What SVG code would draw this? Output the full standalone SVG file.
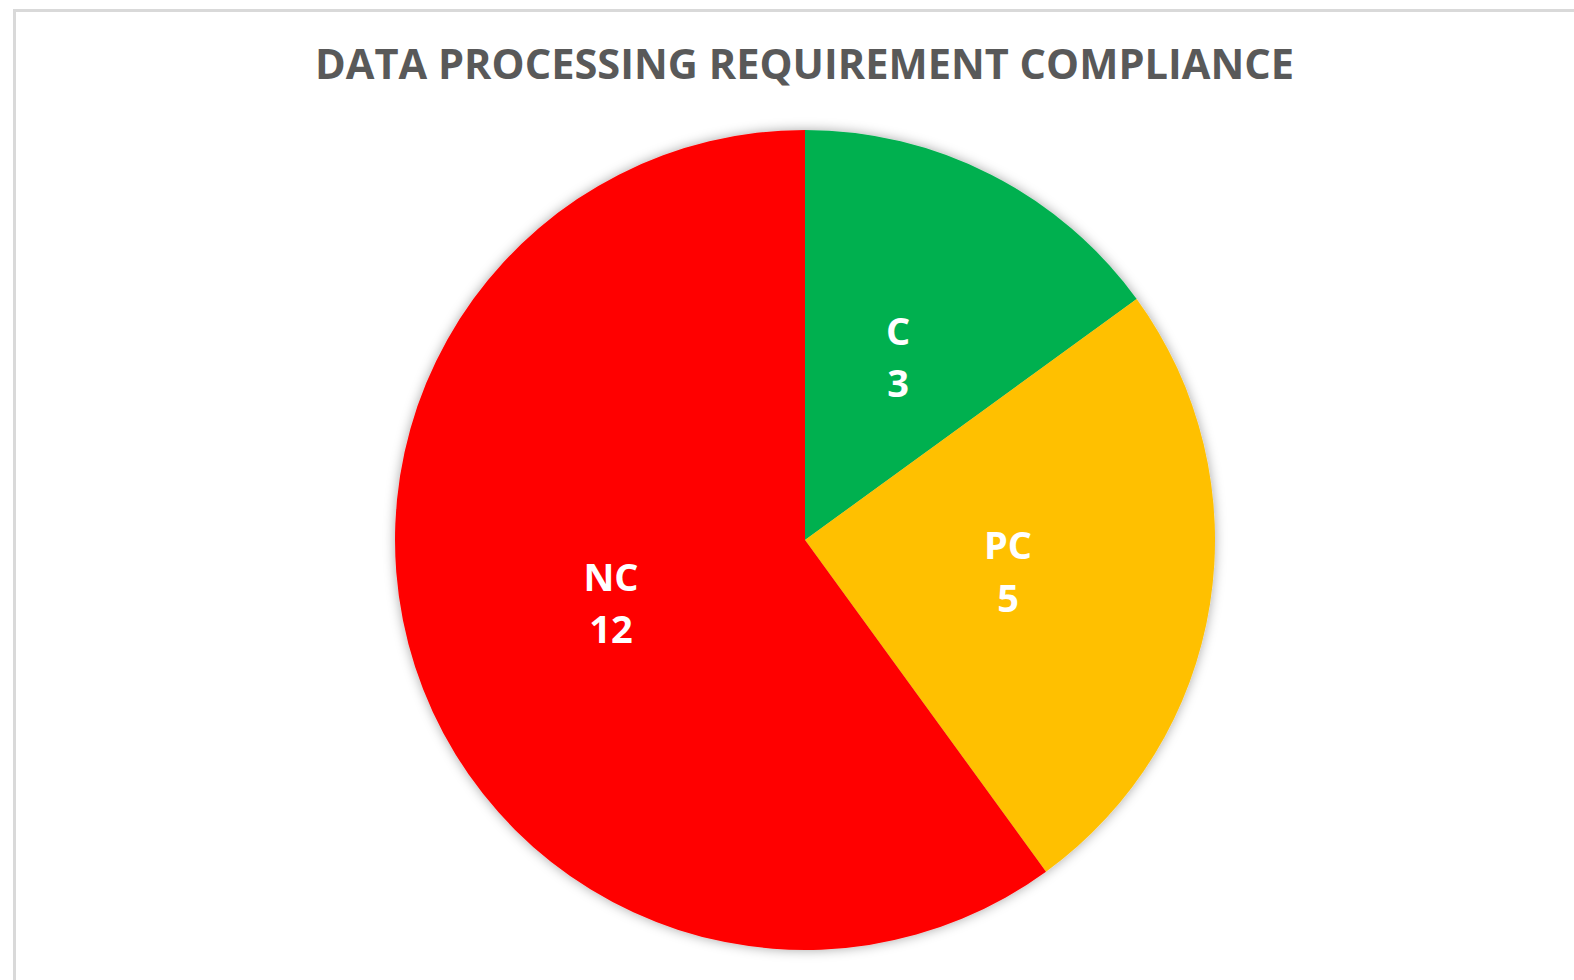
<svg xmlns="http://www.w3.org/2000/svg" width="1574" height="980" viewBox="0 0 1574 980">
  <style>
    .title { font-family: "Open Sans", "Liberation Sans", sans-serif; font-weight: bold; font-size: 41px; fill: #595959; }
    .lbl { font-family: "Open Sans", "Liberation Sans", sans-serif; font-weight: bold; font-size: 38px; fill: #ffffff; text-anchor: middle; }
  </style>
  <defs>
    <filter id="shadow" x="-10%" y="-10%" width="120%" height="120%">
      <feDropShadow dx="0" dy="0" stdDeviation="6" flood-color="#000000" flood-opacity="0.35"/>
    </filter>
  </defs>
  <rect x="0" y="0" width="1574" height="980" fill="#ffffff"/>
  <rect x="14.5" y="10.5" width="1600" height="1000" fill="#ffffff" stroke="#d9d9d9" stroke-width="3"/>
  <text class="title" x="315" y="79" textLength="979" lengthAdjust="spacingAndGlyphs">DATA PROCESSING REQUIREMENT COMPLIANCE</text>
  <g id="pie" filter="url(#shadow)">
    <g id="slice-c">
      <path d="M805,540 L805,130 A410,410 0 0 1 1136.7,299 Z" fill="#00b050"/>
    </g>
    <g id="slice-pc">
      <path d="M805,540 L1136.7,299 A410,410 0 0 1 1046,871.7 Z" fill="#ffc000"/>
    </g>
    <g id="slice-nc">
      <path d="M805,540 L1046,871.7 A410,410 0 1 1 805,130 Z" fill="#ff0000"/>
    </g>
  </g>
  <g id="connectors"></g>
  <g id="label-c">
    <text class="lbl" x="898" y="345">C</text>
    <text class="lbl" x="898" y="397">3</text>
  </g>
  <g id="label-pc">
    <text class="lbl" x="1008" y="559">PC</text>
    <text class="lbl" x="1008" y="612">5</text>
  </g>
  <g id="label-nc">
    <text class="lbl" x="611" y="591">NC</text>
    <text class="lbl" x="611" y="643">12</text>
  </g>
</svg>
